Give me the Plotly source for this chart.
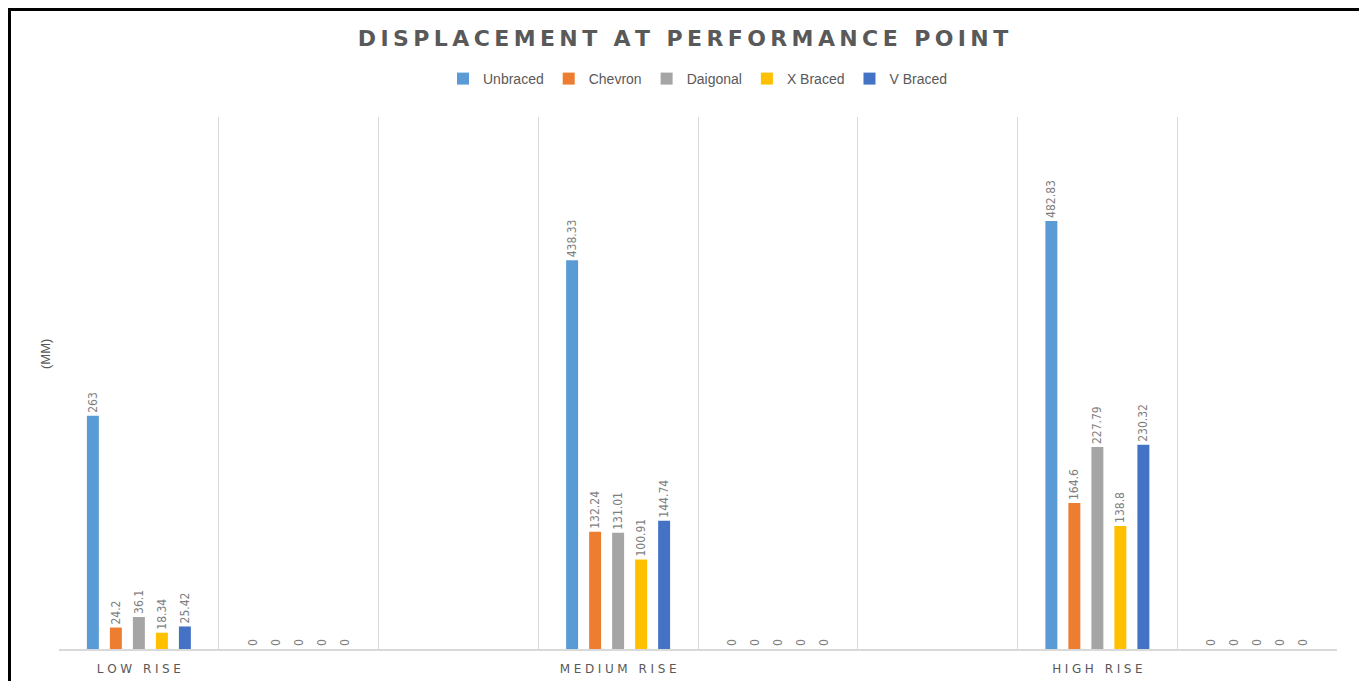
import plotly.graph_objects as go

# ---- data ----
positions = [0, 1, 2, 3, 4, 5, 6, 7]
category_labels = ["LOW RISE", "", "", "MEDIUM RISE", "", "", "HIGH RISE", ""]
series_names = ["Unbraced", "Chevron", "Daigonal", "X Braced", "V Braced"]
unbraced = [263, 0, None, 438.33, 0, None, 482.83, 0]
chevron = [24.2, 0, None, 132.24, 0, None, 164.6, 0]
daigonal = [36.1, 0, None, 131.01, 0, None, 227.79, 0]
x_braced = [18.34, 0, None, 100.91, 0, None, 138.8, 0]
v_braced = [25.42, 0, None, 144.74, 0, None, 230.32, 0]
colors = ["#5B9BD5", "#ED7D31", "#A5A5A5", "#FFC000", "#4472C4"]

title_text = "DISPLACEMENT AT PERFORMANCE POINT"
y_title = "(MM)"


def spaced(s, sep="\u200a"):
    return sep.join(list(s))


# page has an 8px body margin; figure is positioned so that the plot area
# sits at page x 59..1337, y 117..649
OFF = 8
L, T = 59 - OFF, 117 - OFF
PW, PH = 1278, 532
W, H = 1367 - OFF, 681 - OFF

fig = go.Figure()
for name, vals, col in zip(series_names, [unbraced, chevron, daigonal, x_braced, v_braced], colors):
    texts = ["" if v is None else f"{v:g}" for v in vals]
    fig.add_trace(go.Bar(
        x=positions, y=vals, name=name, marker=dict(color=col, line=dict(width=0)),
        text=texts, textposition="outside", textangle=-90, constraintext="none",
        cliponaxis=False,
        textfont=dict(family="Liberation Sans Narrow, Arial Narrow, DejaVu Sans Condensed", size=12, color="#7f7f7f"),
    ))

tick_idx = [i for i, l in enumerate(category_labels) if l]
fig.update_layout(
    width=W, height=H,
    paper_bgcolor="white", plot_bgcolor="white",
    margin=dict(l=L, r=W - L - PW, t=T, b=H - T - PH, autoexpand=False),
    barmode="group", bargap=0.28, bargroupgap=0.48,
    title=dict(text=spaced(title_text, "\u2009"), x=(683 - OFF) / W, xanchor="center",
               y=1 - (38 - OFF) / H, yanchor="middle",
               font=dict(family="DejaVu Sans", size=22, color="#595959", weight="bold")),
    legend=dict(orientation="h", x=0.5, xanchor="center", y=(649 - 79) / PH, yanchor="middle",
                font=dict(family="Liberation Sans, Arial", size=14, color="#595959"),
                itemwidth=30, traceorder="normal"),
    font=dict(family="Liberation Sans, Arial", color="#595959"),
    xaxis=dict(
        range=[-0.5, 7.5], tickmode="array", tickvals=[positions[i] for i in tick_idx],
        ticktext=[spaced(category_labels[i], "\u2009\u200a") for i in tick_idx],
        tickfont=dict(family="DejaVu Sans", size=12, color="#595959"),
        ticklabelstandoff=8,
        showgrid=False, zeroline=False, ticks="",
        showline=True, linecolor="#d9d9d9", linewidth=2,
        minor=dict(tick0=-0.5, dtick=1, showgrid=True, gridcolor="#d9d9d9", gridwidth=1, ticks=""),
    ),
    yaxis=dict(
        range=[0, 600], showgrid=False, zeroline=False, showticklabels=False, ticks="",
    ),
)

fig.add_annotation(text=y_title, xref="paper", yref="paper",
                   x=(45 - 59) / PW, y=(649 - 354) / PH, textangle=-90,
                   showarrow=False, xanchor="center", yanchor="middle",
                   font=dict(family="Liberation Sans, Arial", size=13, color="#595959"))

# outer frame (page coords -> paper coords)
fig.add_shape(type="rect", xref="paper", yref="paper",
              x0=(9.5 - 59) / PW, x1=(1362.5 - 59) / PW,
              y0=(649 - 700) / PH, y1=(649 - 9.5) / PH,
              line=dict(color="black", width=3), fillcolor="rgba(0,0,0,0)", layer="above")

fig.write_html("out.html")
